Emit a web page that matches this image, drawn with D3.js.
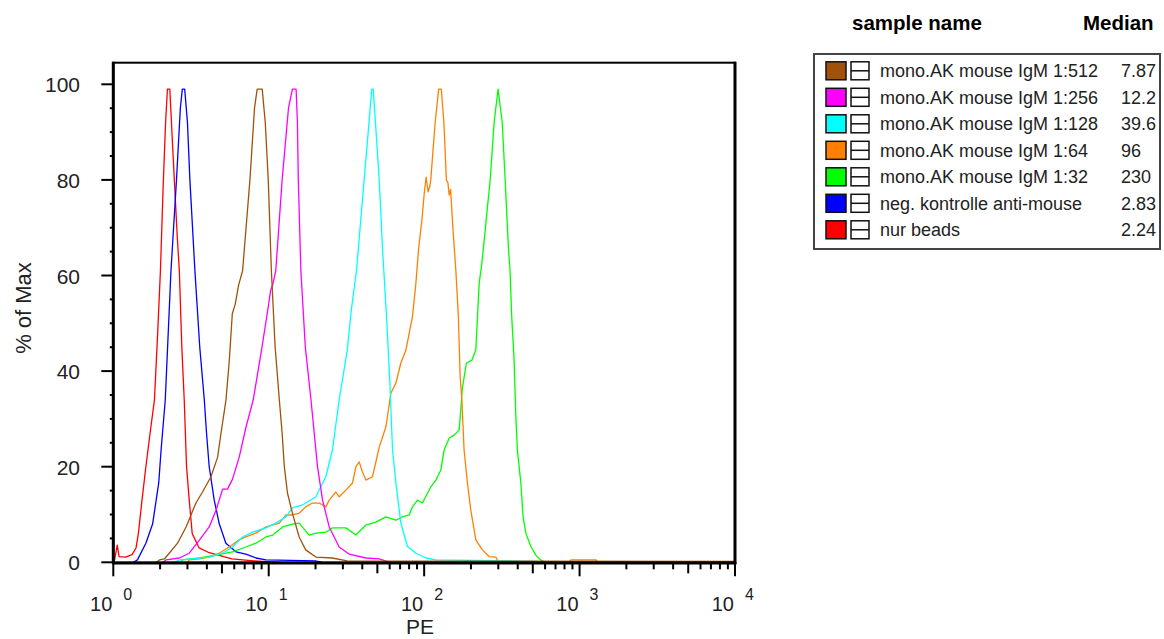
<!DOCTYPE html>
<html>
<head>
<meta charset="utf-8">
<script src="https://cdn.jsdelivr.net/npm/d3@7"></script>
<style>
  body { margin: 0; background: #fff; }
  svg text { font-family: "Liberation Sans", Arial, sans-serif; fill: #222; }
</style>
</head>
<body>
<div id="chart"></div>
<script>
// histogram data, [PE, % of Max]
const histRed = [[1.0,0],[1.02,0.5],[1.06,3.6],[1.09,1.2],[1.20,1.1],[1.32,1.6],[1.40,3],[1.45,6],[1.53,13],[1.62,20],[1.74,28],[1.84,34],[1.93,48],[2.01,61],[2.10,80],[2.17,92],[2.23,99],[2.31,99],[2.40,88],[2.47,80],[2.58,68],[2.66,61],[2.76,45],[2.86,34],[2.96,20],[3.08,13],[3.22,6],[3.57,3],[4.14,2],[5.8,0.7],[8,0.3],[12,0]];
const histBlue = [[1.35,0],[1.43,0.5],[1.62,4],[1.79,8],[1.96,16.6],[2.03,23.5],[2.16,34],[2.35,61],[2.55,80],[2.70,95],[2.78,99],[2.88,99],[3.00,92],[3.11,80],[3.35,61],[3.60,45],[3.85,34],[3.98,27],[4.14,20],[4.46,13],[4.81,8],[5.30,4],[6.15,2.2],[7.13,1.7],[8.27,0.9],[9.6,0.5],[20,0.3],[22,0]];
const histGreen = [[2.7,0],[2.79,0.5],[3.57,0.9],[4.58,1.5],[5.85,2.2],[7.13,3.2],[8.27,4],[9.6,5.3],[10.6,5.7],[12.3,7.4],[14.2,8.0],[15.7,8.2],[18.2,5.7],[20.1,6.1],[23.3,6.3],[25.7,7.2],[31.4,7.2],[36.4,5.7],[42.2,7.8],[48.9,8.4],[56.7,9.5],[65.8,8.8],[72.5,9.5],[80.1,9.9],[84.1,11.6],[90.6,13],[97.5,12.4],[110.4,15.8],[119,17.2],[128,19.3],[134.5,23.5],[145,26],[156,26.6],[168,27.7],[172,31.9],[176,36.4],[187,41.7],[203,42.3],[215,44.4],[226,58.4],[234,62],[240,65.4],[266,80],[282,92],[299,99],[318,92],[332,80],[349,65.4],[357,61],[366,51.4],[379,42.3],[389,30.5],[398,23.5],[419,16.6],[433,9.5],[451,6.1],[486,3.3],[523,1.5],[563,0.5],[600,0]];
const histOrange = [[3.0,0],[3.08,0.5],[3.57,0.7],[4.14,1.1],[4.81,1.9],[5.57,3.2],[6.46,4.7],[7.13,5.3],[8.27,6.1],[9.6,7.4],[11.7,8.2],[12.9,9.9],[14.2,9.9],[15.7,10.3],[17.3,11.6],[19.1,12.4],[21.1,12.4],[23.3,11.6],[24.5,13],[27.0,14.7],[28.4,13.7],[31.4,15.1],[34.6,16.6],[36.4,20],[38.2,21],[40.1,18.9],[42.2,17.2],[46.5,17.9],[51.4,24.1],[56.7,28.3],[58.1,30.5],[61.1,35.4],[65.8,37.5],[70.8,41.7],[76.3,44.4],[84.1,51.4],[88.5,58.4],[92.0,65.4],[97,72],[100,77],[103,80.6],[106,77.5],[108.5,78.5],[110.3,80],[117.7,92],[124,99],[129,99],[134,92],[139,80],[142,79.5],[145,76.8],[148,78],[153,70],[160,61],[166,51.4],[170.5,38.8],[174.8,34],[180.7,23.5],[189.9,16.6],[199.6,10.9],[215,4.7],[237,2.6],[262,1.2],[289,1.1],[300,0],[860,0],[880,0.5],[1280,0.5],[1300,0]];
const histCyan = [[2.5,0],[2.66,0.5],[3.24,0.7],[4.14,1.1],[5.05,1.9],[5.85,3.2],[6.79,5.3],[7.87,6.3],[9.6,7.2],[11.1,8.2],[12.9,9.5],[14.2,11.4],[16.5,12],[20.1,13.7],[23.3,17.9],[25.7,23.5],[28.4,34],[32.0,44.4],[34.0,52.8],[36.7,61],[41.1,80],[43.4,89],[46,99],[47,99],[49.3,89],[51.4,80],[54.0,65.4],[57.3,51.4],[60.2,37.5],[62.6,23.5],[65.8,16.6],[70.8,8.2],[78.1,3.3],[88.5,1.9],[102.6,0.9],[119,0.5],[530,0.2],[545,0]];
const histMagenta = [[2.1,0],[2.18,0.5],[2.66,0.9],[3.08,1.9],[3.57,4.6],[4.14,7.4],[4.58,10.9],[5.05,15.3],[5.43,15.3],[5.85,17.4],[6.46,22],[7.13,28.2],[7.95,34],[8.95,44],[9.78,52],[10.3,57],[10.6,58],[11.1,61],[12.2,80],[13.4,95],[14.2,99],[15.0,99],[15.3,92],[15.5,80],[16.1,61],[17.2,45],[18.7,34],[19.6,27.2],[20.6,20],[22.2,13],[24.5,7.4],[28.4,3.2],[33.0,1.7],[42.2,0.9],[51.4,0.7],[60,0]];
const histBrown = [[1.9,0],[1.98,0.5],[2.13,0.7],[2.29,1.9],[2.59,4],[2.94,7.4],[3.16,9.9],[3.40,12.4],[3.75,14.7],[4.25,17.9],[4.69,22],[4.93,27],[5.31,34],[5.57,42],[5.83,52],[6.09,54],[6.40,58],[6.79,61],[7.57,80],[8.1,95],[8.43,99],[9.08,99],[9.5,92],[9.93,80],[10.4,61],[11.0,45],[11.7,34],[12.2,27],[12.6,20],[13.2,14.5],[14.2,10.3],[15.7,5.3],[17.3,2.6],[20.1,1.1],[25.6,0.9],[32,0.3],[10000,0.2]];

// legend
const sampleNames = ["mono.AK mouse IgM 1:512", "mono.AK mouse IgM 1:256", "mono.AK mouse IgM 1:128", "mono.AK mouse IgM 1:64", "mono.AK mouse IgM 1:32", "neg. kontrolle anti-mouse", "nur beads"];
const medians = ["7.87", "12.2", "39.6", "96", "230", "2.83", "2.24"];
const histograms = [histBrown, histMagenta, histCyan, histOrange, histGreen, histBlue, histRed];
const colors = ["#a0520a", "#ff00ff", "#00ffff", "#ff8000", "#00ff00", "#0000ff", "#ff0000"];

const yMajor = [0, 20, 40, 60, 80, 100];
const decades = [0, 1, 2, 3, 4];

const width = 1164, height = 639;

const svg = d3.select("#chart").append("svg")
  .attr("width", width)
  .attr("height", height);

const x = d3.scaleLog().domain([1, 10000]).range([113.3, 735]);
const y = d3.scaleLinear().domain([0, 100]).range([562.3, 84.3]);

// curves (red first, brown on top)
const line = d3.line()
  .x((d) => x(d[0]))
  .y((d) => y(d[1]));

d3.range(histograms.length - 1, -1, -1).forEach((i) => {
  svg.append("path")
    .datum(histograms[i])
    .attr("d", line)
    .attr("fill", "none")
    .attr("stroke", colors[i])
    .attr("stroke-width", 1.3)
    .attr("stroke-linejoin", "round");
});

// frame
svg.append("rect")
  .attr("x", x(1))
  .attr("y", 62.7)
  .attr("width", x(10000) - x(1))
  .attr("height", y(0) - 62.7)
  .attr("fill", "none")
  .attr("stroke", "#000")
  .attr("stroke-width", 2);
svg.append("line")
  .attr("x1", x(1)).attr("x2", x(1))
  .attr("y1", 61.7).attr("y2", y(0) + 1.5)
  .attr("stroke", "#000").attr("stroke-width", 3);
svg.append("line")
  .attr("x1", x(1) - 1).attr("x2", x(10000) + 1.5)
  .attr("y1", y(0) + 1).attr("y2", y(0) + 1)
  .attr("stroke", "#000").attr("stroke-width", 2.5);
svg.append("line")
  .attr("x1", x(10000)).attr("x2", x(10000))
  .attr("y1", 61.7).attr("y2", y(0) + 1.5)
  .attr("stroke", "#000").attr("stroke-width", 3);

// y ticks
const yMinor = d3.range(0, 101, 5).filter((v) => v % 20 !== 0);
svg.selectAll(".ymaj").data(yMajor).enter().append("line")
  .attr("x1", x(1) - 12).attr("x2", x(1))
  .attr("y1", (d) => y(d)).attr("y2", (d) => y(d))
  .attr("stroke", "#000").attr("stroke-width", 2);
svg.selectAll(".ymin").data(yMinor).enter().append("line")
  .attr("x1", x(1) - 3.5).attr("x2", x(1))
  .attr("y1", (d) => y(d)).attr("y2", (d) => y(d))
  .attr("stroke", "#000").attr("stroke-width", 2);
svg.selectAll(".ylab").data(yMajor).enter().append("text")
  .attr("x", 80)
  .attr("y", (d) => y(d) + 8)
  .attr("text-anchor", "end")
  .style("font-size", "21px")
  .text((d) => d);

// x ticks
const xMinor = [];
decades.slice(0, 4).forEach((e) => {
  d3.range(2, 10).forEach((m) => xMinor.push(m * Math.pow(10, e)));
});
svg.selectAll(".xmin").data(xMinor).enter().append("line")
  .attr("x1", (d) => x(d)).attr("x2", (d) => x(d))
  .attr("y1", y(0)).attr("y2", (d) => y(0) + (String(d)[0] === "5" ? 11 : 7))
  .attr("stroke", "#000").attr("stroke-width", 2);
svg.selectAll(".xmaj").data(decades).enter().append("line")
  .attr("x1", (d) => x(Math.pow(10, d))).attr("x2", (d) => x(Math.pow(10, d)))
  .attr("y1", y(0)).attr("y2", y(0) + 14)
  .attr("stroke", "#000").attr("stroke-width", 2);

const xlab = svg.selectAll(".xlab").data(decades).enter().append("g");
xlab.append("text")
  .attr("x", (d) => x(Math.pow(10, d)) - 1)
  .attr("y", 610.5)
  .attr("text-anchor", "end")
  .style("font-size", "20px")
  .text("10");
xlab.append("text")
  .attr("x", (d) => x(Math.pow(10, d)) + 10)
  .attr("y", 599.5)
  .style("font-size", "16px")
  .text((d) => d);

// axis titles
svg.append("text")
  .attr("x", 420)
  .attr("y", 634)
  .attr("text-anchor", "middle")
  .style("font-size", "21px")
  .text("PE");
svg.append("text")
  .attr("transform", "translate(31,308) rotate(-90)")
  .attr("text-anchor", "middle")
  .style("font-size", "22px")
  .text("% of Max");

// legend
const legendTop = 70.8, rowStep = 26.5;
svg.append("text")
  .attr("x", 852).attr("y", 30)
  .style("font-size", "20.5px").style("font-weight", "bold").style("fill", "#000")
  .text("sample name");
svg.append("text")
  .attr("x", 1083).attr("y", 30)
  .style("font-size", "20.5px").style("font-weight", "bold").style("fill", "#000")
  .text("Median");

svg.append("rect")
  .attr("x", 814).attr("y", 54)
  .attr("width", 346).attr("height", 195)
  .attr("fill", "none")
  .attr("stroke", "#444")
  .attr("stroke-width", 2);

const rows = svg.selectAll(".row").data(sampleNames).enter().append("g")
  .attr("transform", (d, i) => `translate(0,${legendTop + i * rowStep})`);

rows.append("rect")
  .attr("x", 826).attr("y", -9)
  .attr("width", 20).attr("height", 18)
  .attr("fill", (d, i) => colors[i])
  .attr("stroke", "#111")
  .attr("stroke-width", 1.5);
rows.append("rect")
  .attr("x", 851).attr("y", -9)
  .attr("width", 18).attr("height", 18)
  .attr("fill", "#fff")
  .attr("stroke", "#111")
  .attr("stroke-width", 1.5);
rows.append("line")
  .attr("x1", 851).attr("x2", 869)
  .attr("y1", 0).attr("y2", 0)
  .attr("stroke", "#111")
  .attr("stroke-width", 1.5);
rows.append("text")
  .attr("x", 880).attr("y", 6.5)
  .style("font-size", "18px")
  .text((d) => d);
rows.append("text")
  .attr("x", 1121).attr("y", 6.5)
  .style("font-size", "18px")
  .text((d, i) => medians[i]);
</script>
</body>
</html>
